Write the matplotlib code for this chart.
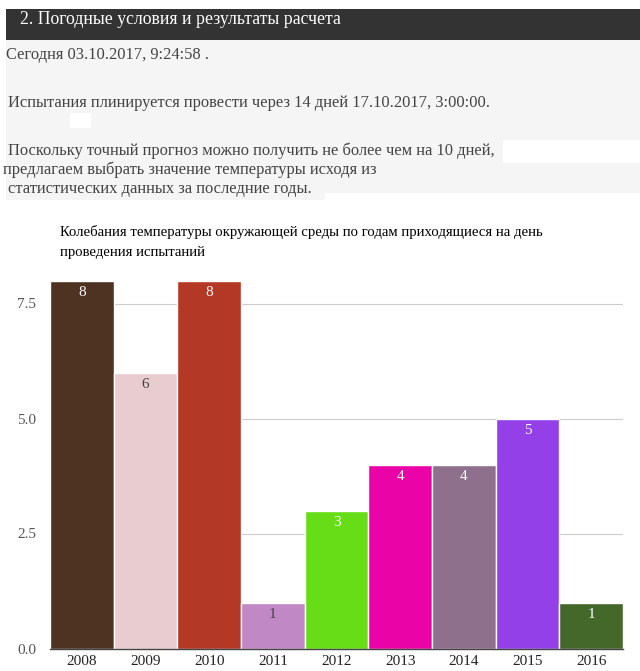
import matplotlib
matplotlib.use("Agg")
import matplotlib.pyplot as plt
from matplotlib.patches import Rectangle

years = ["2008", "2009", "2010", "2011", "2012", "2013", "2014", "2015", "2016"]
temps = [8, 6, 8, 1, 3, 4, 4, 5, 1]
colors = ["#4e3222", "#e8cccf", "#b33826", "#c088c4", "#66dd16",
          "#ea04a8", "#8e6f8c", "#9340e8", "#44682a"]
label_colors = ["white", "#444444", "white", "#444444", "white",
                "white", "white", "white", "white"]
yticks = [0.0, 2.5, 5.0, 7.5]

header = "2. Погодные условия и результаты расчета"
lines = [
    ("Сегодня 03.10.2017, 9:24:58 .", 6, 55),
    ("Испытания плинируется провести через 14 дней 17.10.2017, 3:00:00.", 8, 103),
    ("Поскольку точный прогноз можно получить не более чем на 10 дней,", 8, 151),
    ("предлагаем выбрать значение температуры исходя из", 3, 170),
    ("статистических данных за последние годы.", 8, 189),
]
chart_title = "Колебания температуры окружающей среды по годам приходящиеся на день\nпроведения испытаний"

W, H = 640, 671
plt.rcParams['font.family'] = ['Liberation Serif', 'DejaVu Serif']
fig = plt.figure(figsize=(W / 100, H / 100), dpi=100)


def fx(x):
    return x / W


def fy(y):
    return 1 - y / H


def rect(x0, y0, x1, y1, color):
    fig.patches.append(Rectangle((fx(x0), fy(y1)), fx(x1) - fx(x0), fy(y0) - fy(y1),
                                 transform=fig.transFigure, facecolor=color,
                                 edgecolor='none', zorder=0))


# page background blocks
rect(6, 9, 640, 40, "#333333")
rect(6, 40, 640, 200, "#f5f5f5")
rect(70, 113, 91, 128, "#ffffff")
rect(503, 140, 640, 163, "#ffffff")
rect(325, 193, 640, 200, "#ffffff")

fig.text(fx(20), fy(20), header, color="white", fontsize=12.8, va="center", ha="left")
for txt, x, y in lines:
    fig.text(fx(x), fy(y), txt, color="#444444", fontsize=11.9, va="center", ha="left")

fig.text(fx(60), fy(242), chart_title, color="black", fontsize=10.6, va="center",
         ha="left", linespacing=1.65)

y0_px, y8_px = 648.5, 280.5
ax = fig.add_axes([fx(50), fy(y0_px), fx(623) - fx(50), (y0_px - y8_px) / H])
x = list(range(len(years)))
bars = ax.bar(x, temps, width=1.0, color=colors, edgecolor="white", linewidth=1.0, zorder=2)
for xi, v, lc in zip(x, temps, label_colors):
    ax.annotate(str(v), (xi, v), xytext=(0, -12), textcoords="offset pixels",
                ha="center", va="center", color=lc, fontsize=11, zorder=3)

ax.set_xlim(-0.5, len(years) - 0.5)
ax.set_ylim(0, 8)
ax.set_yticks(yticks)
ax.set_yticklabels([f"{t:.1f}" for t in yticks])
ax.set_xticks(x)
ax.set_xticklabels(years)
ax.grid(axis="y", color="#cccccc", linewidth=0.8, zorder=0)
ax.set_axisbelow(True)
for s in ["top", "right", "left"]:
    ax.spines[s].set_visible(False)
ax.spines["bottom"].set_color("#444444")
ax.spines["bottom"].set_linewidth(1.0)
ax.tick_params(axis="y", length=0, labelsize=11, labelcolor="#555555", pad=10)
ax.tick_params(axis="x", length=0, labelsize=11, labelcolor="#222222", pad=5)

fig.savefig("out.png", dpi=100)
